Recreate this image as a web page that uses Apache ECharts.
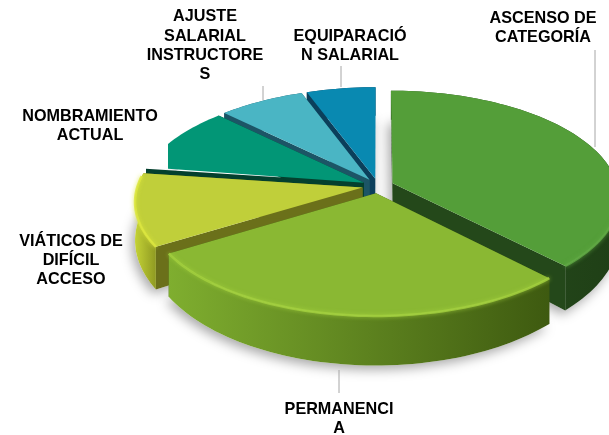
<!DOCTYPE html>
<html>
<head>
<meta charset="utf-8">
<style>
html,body{margin:0;padding:0;background:#fff;}
#main{width:609px;height:435px;}
</style>
<script src="https://cdn.jsdelivr.net/npm/echarts@6/dist/echarts.min.js"></script>
</head>
<body>
<div id="main"></div>
<script>
// percentages, clockwise from 12 o'clock
var categories = ['ASCENSO DE CATEGORÍA','PERMANENCIA','VIÁTICOS DE DIFÍCIL ACCESO','NOMBRAMIENTO ACTUAL','AJUSTE SALARIAL INSTRUCTORES','EQUIPARACIÓN SALARIAL'];
var values = [37.8, 28.4, 11, 10.2, 7, 5.6];
var labelLines = [
    ['ASCENSO DE','CATEGORÍA'],
    ['PERMANENCI','A'],
    ['VIÁTICOS DE','DIFÍCIL','ACCESO'],
    ['NOMBRAMIENTO','ACTUAL'],
    ['AJUSTE','SALARIAL','INSTRUCTORE','S'],
    ['EQUIPARACIÓ','N SALARIAL']
];

var topColors  = ['#549e39','#8ab833','#c0cf3a','#029676','#4ab5c4','#0989b1'];
var edgeColors = ['#24481a','#3f5a12','#6b701a','#04402e','#1c5566','#0b3f5b'];
var rimColors  = ['#5fa843','#a2cf3e','#dce63e','#029676','#4ab5c4','#0989b1'];
var wallStops  = [
    ['#2a5220','#1f3f16'],
    ['#7fae2f','#3e5a10'],
    ['#c4d236','#8f9a22'],
    ['#04402e','#04402e'],
    ['#1c5566','#1c5566'],
    ['#0b3f5b','#0b3f5b']
];
var drawOrder = [5,4,3,0,2,1];

var CX = 378, CY = 186, AX = 225, AY = 105, PERSP = 0.127, DEPTH = 37, EXPLODE = 0.07;
var TEAL_CUT = 168;

var total = values.reduce(function(a,b){return a+b;},0);
var starts = [];
var acc = 0;
values.forEach(function(v){ starts.push(acc); acc += v; });

function project(gx, gy, drop){
    var s = 1/(1 - PERSP*gy);
    return [CX + gx*AX*s, CY + gy*AY*s + (drop ? DEPTH*s*s : 0)];
}

function renderSlice(params, api){
    var i = params.dataIndex;
    var a0 = starts[i]/total*Math.PI*2 - Math.PI/2;
    var a1 = (starts[i]+api.value(0))/total*Math.PI*2 - Math.PI/2;
    var mid = (a0+a1)/2;
    var ox = Math.cos(mid)*EXPLODE, oy = Math.sin(mid)*EXPLODE;
    var order = drawOrder.indexOf(i);
    var z = 10 + order*10;

    var arc = [], arcLow = [];
    var n = Math.max(4, Math.ceil((a1-a0)/0.03));
    for(var k=0;k<=n;k++){
        var t = a0+(a1-a0)*k/n;
        arc.push(project(ox+Math.cos(t), oy+Math.sin(t), false));
        arcLow.push(project(ox+Math.cos(t), oy+Math.sin(t), true));
    }
    var apex = project(ox, oy, false);
    var apexLow = project(ox, oy, true);

    var top = [apex].concat(arc);
    if(i === 3){
        top = top.map(function(p){ return [Math.max(p[0], TEAL_CUT), p[1]]; });
    }
    var base = [apexLow].concat(arcLow);
    var wall = arc.concat(arcLow.slice().reverse());
    var children = [];

    children.push({
        type:'polygon', z2:1, shape:{points:base},
        style:{fill:'#fff', shadowBlur:12, shadowColor:'rgba(0,0,0,0.35)', shadowOffsetX:-3, shadowOffsetY:4}
    });
    // radial cut faces
    children.push({
        type:'polygon', z2:z, shape:{points:[apex,arc[0],arcLow[0],apexLow]},
        style:{fill:edgeColors[i]}
    });
    children.push({
        type:'polygon', z2:z, shape:{points:[apex,arc[n],arcLow[n],apexLow]},
        style:{fill:edgeColors[i]}
    });
    if(i !== 3){
        children.push({
            type:'polygon', z2:z+1, shape:{points:wall},
            style:{fill:new echarts.graphic.LinearGradient(0,0,1,0,[
                {offset:0,color:wallStops[i][0]},{offset:1,color:wallStops[i][1]}
            ])}
        });
    }
    children.push({
        type:'polygon', z2:z+2, shape:{points:top},
        style:{fill:topColors[i]}
    });
    // soft bevel along the near rim
    if(i < 3){
        var front = arc.filter(function(p){ return p[1] > CY - 10; });
        children.push({
            type:'polyline', z2:z+3, shape:{points:front},
            style:{fill:null, stroke:rimColors[i], lineWidth:2.5, opacity:0.85, shadowBlur:4, shadowColor:rimColors[i]}
        });
    }
    return {type:'group', children:children};
}

var labelCenters = [[543,19],[339,410],[71,242],[90,117],[205,17],[350,37]];
var graphics = [];
labelLines.forEach(function(lines,i){
    lines.forEach(function(line,j){
        graphics.push({
            type:'text', z:100,
            style:{
                text:line, x:labelCenters[i][0], y:labelCenters[i][1]+j*(i === 4 ? 19.3 : 18.8),
                align:'center', verticalAlign:'middle',
                fill:'#000', font:'bold 16.2px "Liberation Sans", Arial, sans-serif'
            }
        });
    });
});
[[595,50,595,147],[339,370,339,393],[341,66,341,87],[263,86,263,100]].forEach(function(l){
    graphics.push({
        type:'line', z:100,
        shape:{x1:l[0],y1:l[1],x2:l[2],y2:l[3]},
        style:{stroke:'#a6a6a6',lineWidth:1}
    });
});

var chart = echarts.init(document.getElementById('main'));
chart.setOption({
    backgroundColor:'#fff',
    animation:false,
    graphic:graphics,
    series:[{
        type:'custom',
        coordinateSystem:'none',
        silent:true,
        renderItem:renderSlice,
        data:values.map(function(v,i){ return {name:categories[i], value:[v]}; })
    }]
});
</script>
</body>
</html>
